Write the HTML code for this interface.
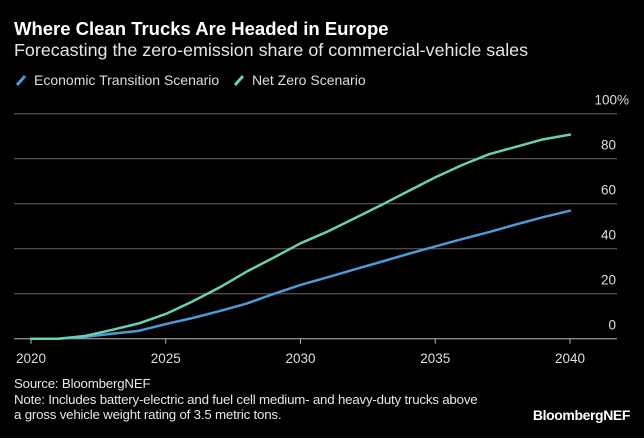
<!DOCTYPE html>
<html><head><meta charset="utf-8"><style>
body{margin:0;width:644px;height:438px;background:#000;overflow:hidden;font-family:"Liberation Sans",sans-serif;color:#fff;position:relative}
.t{position:absolute;white-space:nowrap}
</style></head><body>
<div class="t" style="left:14px;top:18px;font-size:18.5px;font-weight:bold">Where Clean Trucks Are Headed in Europe</div>
<div class="t" style="left:14px;top:40px;font-size:17.9px;color:#e6e6e6">Forecasting the zero-emission share of commercial-vehicle sales</div>
<div class="t" style="left:14px;top:72px;font-size:14px;color:#ddd"><svg width="14" height="14" style="vertical-align:-2px;margin-right:6px"><line x1="3" y1="12" x2="11" y2="3" stroke="#4a9bd8" stroke-width="3"/></svg>Economic Transition Scenario</div>
<div class="t" style="left:232px;top:72px;font-size:14px;color:#ddd"><svg width="14" height="14" style="vertical-align:-2px;margin-right:6px"><line x1="3" y1="12" x2="11" y2="3" stroke="#66d1b3" stroke-width="3"/></svg>Net Zero Scenario</div>
<svg id="chart" width="644" height="438" style="position:absolute;left:0;top:0"></svg>
<div class="t" style="left:14px;top:376px;font-size:13.3px;line-height:15.5px;color:#e6e6e6;letter-spacing:-0.2px">Source: BloombergNEF<br>Note: Includes battery-electric and fuel cell medium- and heavy-duty trucks above<br>a gross vehicle weight rating of 3.5 metric tons.</div>
<div class="t" style="right:14px;top:407px;font-size:14px;font-weight:bold;letter-spacing:-0.4px">BloombergNEF</div>
<script>
const years=[2020,2021,2022,2023,2024,2025,2026,2027,2028,2029,2030,2031,2032,2033,2034,2035,2036,2037,2038,2039,2040];
const netZero=[0,0,1.2,3.9,6.8,11,16.6,22.8,29.8,36,42.4,47.6,53.5,59.4,65.6,71.7,77.2,82,85.3,88.6,90.7];
const economic=[0,0,0.8,2.2,3.5,6.5,9.2,12.3,15.6,19.9,23.9,27.3,30.8,34.2,37.7,41,44.3,47.4,50.8,54,56.9];
const yTicks=[0,20,40,60,80,100];
const yTickLabels=["0","20","40","60","80","100%"];
const xTicks=[2020,2025,2030,2035,2040];
const NS="http://www.w3.org/2000/svg";
const svg=document.getElementById('chart');
const x=v=>31+(v-2020)*(570-31)/20;
const y=v=>338.7-v*(338.7-113.7)/100;
function mk(t,a){const e=document.createElementNS(NS,t);for(const k in a)e.setAttribute(k,a[k]);svg.appendChild(e);return e;}
yTicks.forEach((v,i)=>{
 const l=mk('line',{x1:14,x2:617,y1:y(v),y2:y(v),stroke:i===0?'#bbb':'#666','stroke-width':1});
 
 
 const t=mk('text',{x:i===5?629:616,y:y(v)-9,'text-anchor':'end',fill:'#ddd','font-size':13.5,'font-family':'Liberation Sans'});
 t.textContent=yTickLabels[i];
 
 
});
xTicks.forEach(v=>{
 const l=mk('line',{x1:x(v),x2:x(v),y1:y(0),y2:y(0)+5,stroke:'#bbb'});
 
 
 const t=mk('text',{x:x(v),y:363,'text-anchor':'middle',fill:'#ddd','font-size':13.5,'font-family':'Liberation Sans'});
 t.textContent=v;
 
 
});
function line(vals,color,name){
 const p=mk('polyline',{points:years.map((yr,i)=>x(yr)+','+y(vals[i])).join(' '),fill:'none',stroke:color,'stroke-width':2.5,'stroke-linejoin':'round','stroke-linecap':'round'});
 
 
}
line(economic,'#4a9bd8','economic-transition-line');
line(netZero,'#66d1b3','net-zero-line');
</script>
</body></html>
